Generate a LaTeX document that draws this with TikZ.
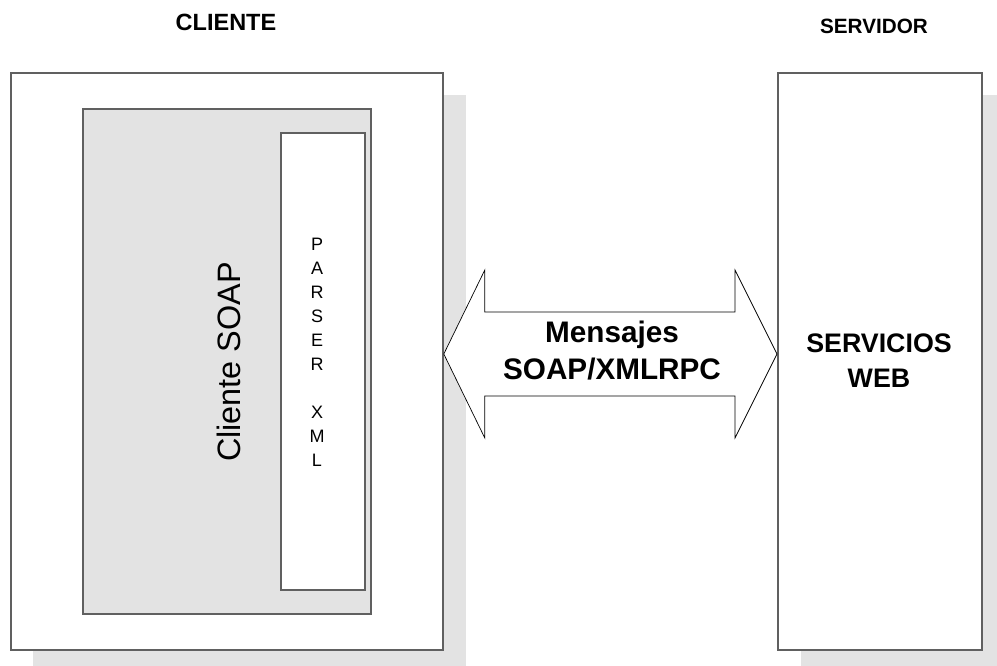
\documentclass[tikz,border=0pt]{standalone}
\usepackage{fontspec}
\setmainfont{Liberation Sans}
\begin{document}
\begin{tikzpicture}[x=1pt,y=-1pt,
  framebox/.style={draw=boxline,line width=1.8pt,fill=white},
  shadowbox/.style={fill=shade,draw=none},
  title/.style={font=\bfseries\fontsize{#1}{#1}\selectfont,inner sep=0pt},
]
\definecolor{shade}{RGB}{227,227,227}
\definecolor{boxline}{RGB}{96,96,96}
\useasboundingbox (0,0) rectangle (997,665);
\clip (0,0) rectangle (997,665);

% drop shadows behind the two outer frames
\fill[shadowbox] (33,95) rectangle (466,672);
\fill[shadowbox] (801,95) rectangle (1005,672);

% client frame with the SOAP client and its XML parser
\node[framebox,minimum width=432,minimum height=577,inner sep=0,anchor=north west] (client) at (10,72) {};
\node[draw=boxline,line width=1.8pt,fill=shade,minimum width=288,minimum height=505,inner sep=0,anchor=north west] (soap) at (82,108) {};
\node[framebox,minimum width=84,minimum height=457,inner sep=0,anchor=north west] (parser) at (280,132) {};

% server frame
\node[framebox,minimum width=204,minimum height=577,inner sep=0,anchor=north west] (server) at (777,72) {};

% headings
\node[title=23.5] (lbl-client) at (226,22) {CLIENTE};
\node[title=20.7] (lbl-server) at (874,26) {SERVIDOR};

% box texts
\node[rotate=90,font=\fontsize{32.4}{32.4}\selectfont,inner sep=0] (soaptxt) at (229,362) {Cliente SOAP};
\node[align=center,font=\fontsize{18}{24}\selectfont,inner sep=0] (parsertxt) at (317,352)
  {P\\A\\R\\S\\E\\R\\[0pt] \strut\\X\\M\\L};
\node[align=center,font=\bfseries\fontsize{26.8}{35}\selectfont,inner sep=0] (wstxt) at (879,361) {SERVICIOS\\WEB};

% two-headed message arrow between the frames
\coordinate (tipL) at (client.east |- 0,354);
\coordinate (tipR) at (server.west |- 0,354);
\draw[black,line width=0.7pt,fill=white,line join=miter]
  (tipL) -- ([xshift=41]tipL |- 0,270) -- ([xshift=41]tipL |- 0,312)
  -- ([xshift=-42]tipR |- 0,312) -- ([xshift=-42]tipR |- 0,270) -- (tipR)
  -- ([xshift=-42]tipR |- 0,438) -- ([xshift=-42]tipR |- 0,396)
  -- ([xshift=41]tipL |- 0,396) -- ([xshift=41]tipL |- 0,438) -- cycle;
\node[align=center,font=\bfseries\fontsize{29.7}{37}\selectfont,inner sep=0] (msg) at (612,351) {Mensajes\\SOAP/XMLRPC};
\end{tikzpicture}
\end{document}
